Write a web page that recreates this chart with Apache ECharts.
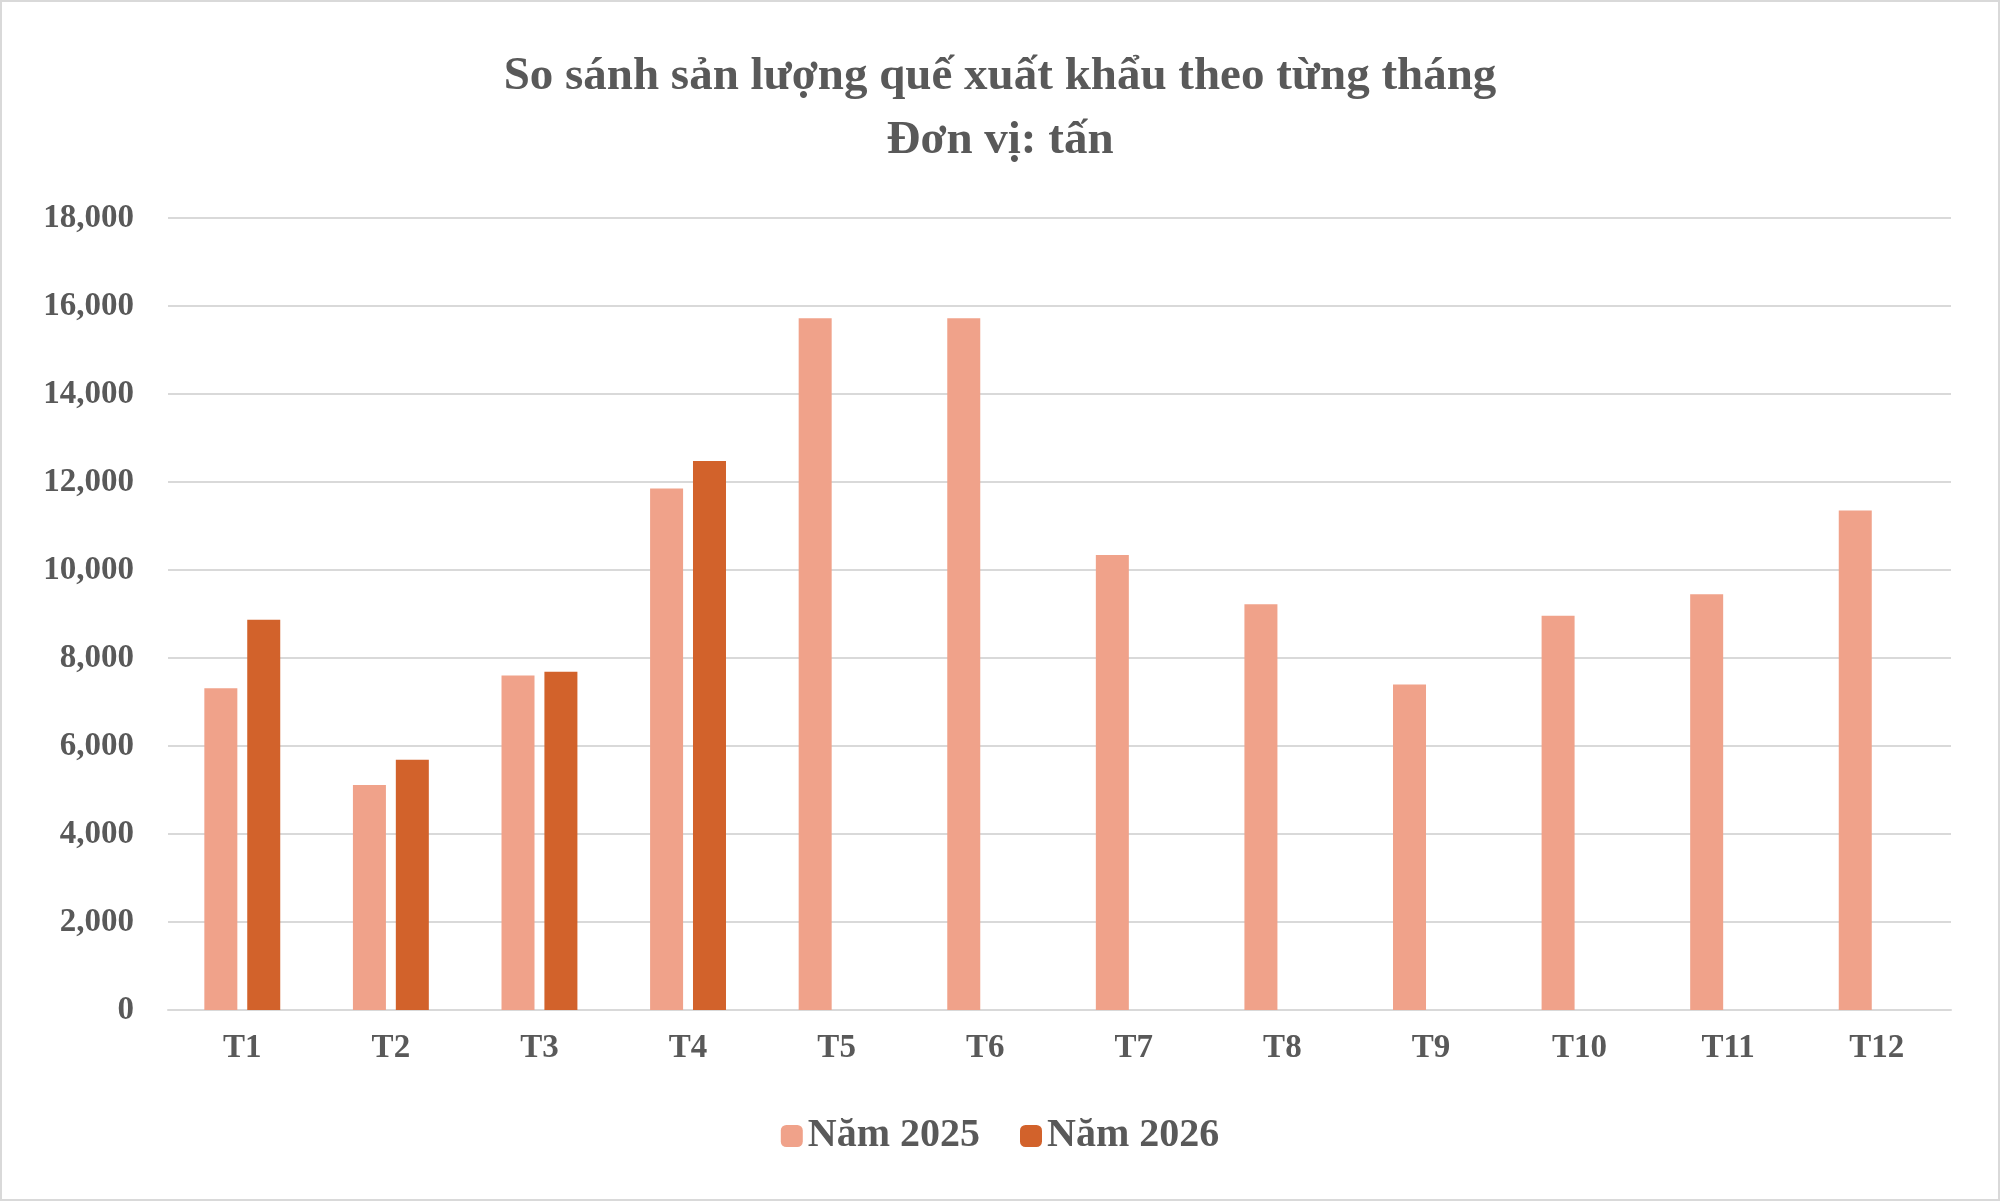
<!DOCTYPE html>
<html><head><meta charset="utf-8">
<script src="https://cdn.jsdelivr.net/npm/echarts@6/dist/echarts.min.js"></script>
<style>html,body{margin:0;padding:0;background:#fff}#c{width:2000px;height:1201px;box-sizing:border-box;border:2px solid #d9d9d9}</style>
</head><body><div id="c"></div>
<script>
const categories = ['T1','T2','T3','T4','T5','T6','T7','T8','T9','T10','T11','T12'];
const values2025 = [7310,5114,7600,11850,15720,15720,10340,9220,7400,8960,9450,11350];
const values2026 = [8870,5690,7690,12480,null,null,null,null,null,null,null,null];
const seriesNames = ['Năm 2025','Năm 2026'];
const chart = echarts.init(document.getElementById('c'));
const font = 'Liberation Serif';
chart.setOption({
  animation:false,
  title:{text:'So sánh sản lượng quế xuất khẩu theo từng tháng\nĐơn vị: tấn',left:'center',top:38,
    textStyle:{fontFamily:font,fontWeight:'bold',fontSize:47,color:'#595959',lineHeight:64}},
  legend:{bottom:38,left:'center',itemWidth:22,itemHeight:22,itemGap:40,
    textStyle:{fontFamily:font,fontWeight:'bold',fontSize:40,color:'#595959'},data:seriesNames},
  grid:{left:166,right:47,top:216,bottom:189},
  xAxis:{type:'category',data:categories,axisTick:{show:false},
    axisLine:{lineStyle:{color:'#d9d9d9',width:2}},
    axisLabel:{fontFamily:font,fontWeight:'bold',fontSize:33,color:'#595959',margin:22}},
  yAxis:{type:'value',min:0,max:18000,interval:2000,
    splitLine:{lineStyle:{color:'#d9d9d9',width:2}},
    axisLabel:{fontFamily:font,fontWeight:'bold',fontSize:33,color:'#595959',margin:34}},
  series:[
    {name:seriesNames[0],type:'bar',data:values2025,barWidth:33,barGap:'30%',itemStyle:{color:'#F0A28A'}},
    {name:seriesNames[1],type:'bar',data:values2026,barWidth:33,itemStyle:{color:'#D2622B'}}
  ]
});
</script></body></html>
